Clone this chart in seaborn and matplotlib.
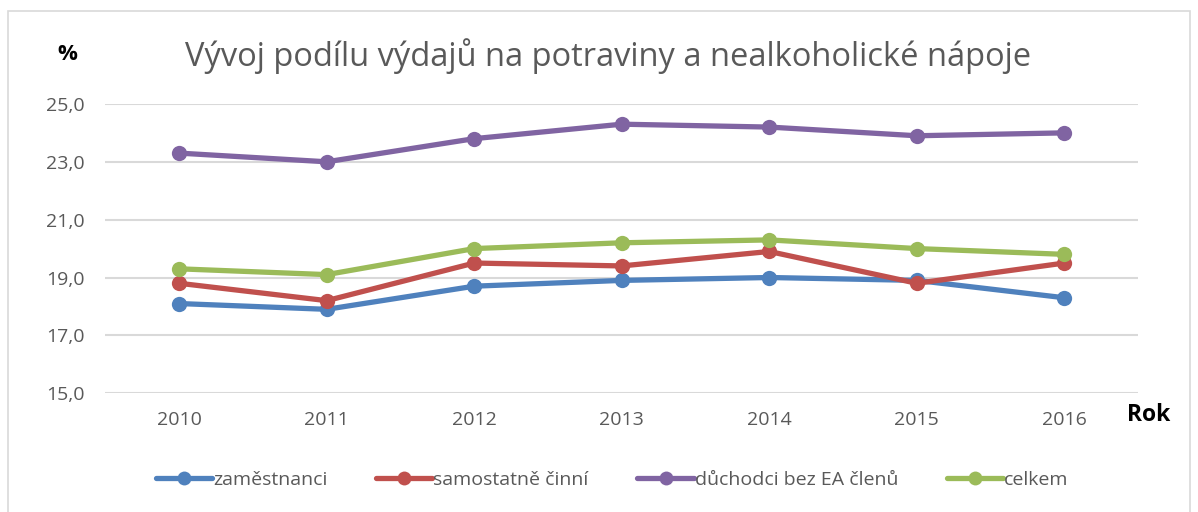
import pandas as pd
import matplotlib.pyplot as plt
import seaborn as sns
from matplotlib.patches import Rectangle

roky = [2010, 2011, 2012, 2013, 2014, 2015, 2016]
zamestnanci = [18.1, 17.9, 18.7, 18.9, 19.0, 18.9, 18.3]
samostatne = [18.8, 18.2, 19.5, 19.4, 19.9, 18.8, 19.5]
duchodci = [23.3, 23.0, 23.8, 24.3, 24.2, 23.9, 24.0]
celkem = [19.3, 19.1, 20.0, 20.2, 20.3, 20.0, 19.8]

skupiny = ["zaměstnanci", "samostatně činní", "důchodci bez EA členů", "celkem"]
barvy = ["#4F81BD", "#C0504D", "#8064A2", "#9BBB59"]
y_ticks = [15, 17, 19, 21, 23, 25]

# long format for seaborn
rows = []
for name, vals in zip(skupiny, [zamestnanci, samostatne, duchodci, celkem]):
    for r, v in zip(roky, vals):
        rows.append({"rok": r, "podil": v, "skupina": name})
df = pd.DataFrame(rows)

sns.set_style("white")
plt.rcParams['font.family'] = ['Open Sans', 'DejaVu Sans']

fig = plt.figure(figsize=(11.98, 5.12), dpi=100)
ax = fig.add_axes([0.088, 0.232, 0.862, 0.565])

sns.lineplot(data=df, x="rok", y="podil", hue="skupina", hue_order=skupiny,
             palette=barvy, marker="o", markersize=11, markeredgewidth=0,
             linewidth=3.8, ax=ax, legend=True)

ax.set_xlim(2009.5, 2016.5)
ax.set_ylim(15, 25)
ax.set_xticks(roky)
ax.set_xticklabels([str(r) for r in roky])
ax.set_yticks(y_ticks)
ax.set_yticklabels([f"{t:.1f}".replace(".", ",") for t in y_ticks])
ax.tick_params(axis="both", length=0, labelsize=14, labelcolor="#595959")
ax.tick_params(axis="x", pad=13)
ax.tick_params(axis="y", pad=15)
ax.set_xlabel("")
ax.set_ylabel("")
ax.grid(axis="y", color="#D9D9D9", linewidth=1.5)
ax.set_axisbelow(True)
for s in ax.spines.values():
    s.set_visible(False)

handles, labels = ax.get_legend_handles_labels()
ax.get_legend().remove()
leg = fig.legend(handles, labels, loc="center", bbox_to_anchor=(0.511, 0.062), ncol=4,
                 frameon=False, fontsize=14, handlelength=2.9, columnspacing=2.5,
                 handletextpad=0.05, labelcolor="#595959")
for h in leg.legend_handles:
    h.set_markersize(10)

fig.text(608 / 1198, 1 - 56 / 512, "Vývoj podílu výdajů na potraviny a nealkoholické nápoje",
         ha="center", va="center", fontsize=23.5, color="#595959")
fig.text(67 / 1198, 1 - 55 / 512, "%", ha="center", va="center", fontsize=16,
         fontweight="bold", color="black")
fig.text(1149 / 1198, 1 - 415 / 512, "Rok", ha="center", va="center", fontsize=16.5,
         fontweight="bold", color="black")

fig.patches.append(Rectangle((8 / 1198, -0.01), 1182 / 1198, 1 - 11 / 512 + 0.01,
                             transform=fig.transFigure, fill=False,
                             edgecolor="#D9D9D9", linewidth=1.2))

fig.savefig("out.png", dpi=100)
